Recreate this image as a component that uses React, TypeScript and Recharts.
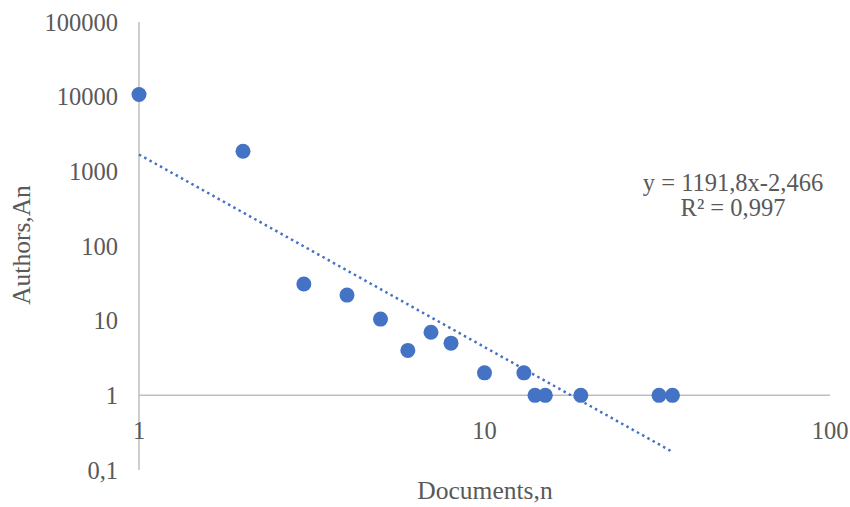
import { ReferenceLine, Scatter, ScatterChart, XAxis, YAxis } from "recharts";

const documents = [1, 2, 3, 4, 5, 6, 7, 8, 10, 13, 14, 15, 19, 32, 35];
const authors = [10700, 1860, 31, 22, 10.5, 4, 7, 5, 2, 2, 1, 1, 1, 1, 1];

// trendline end points
const trendX = [1, 35];
const trendY = [1680, 0.175];

const xTicks = [1, 10, 100];
const yTicks = [0.1, 1, 10, 100, 1000, 10000, 100000];

const points = documents.map((n, i) => ({ n, an: authors[i] }));
const trend = trendX.map((n, i) => ({ n, an: trendY[i] }));

const FONT = "'Liberation Serif', serif";
const GREY = "#595959";
const BLUE = "#4472C4";

const fmt = (v: number) => String(v).replace(".", ",");

function XTick({ x, y, payload }: any) {
  // labels sit just under the y = 1 crossing line
  return (
    <text
      x={x}
      y={y - 48}
      textAnchor="middle"
      dominantBaseline="central"
      fill={GREY}
      fontSize={24.5}
      fontFamily={FONT}
    >
      {payload.value}
    </text>
  );
}

export default function App() {
  return (
    <div style={{ position: "relative", width: 850, height: 507 }}>
      <style>{"body{margin:0}"}</style>
      <ScatterChart
        width={850}
        height={507}
        margin={{ top: 22, right: 20, bottom: 0, left: 0 }}
      >
        <XAxis
          type="number"
          dataKey="n"
          scale="log"
          domain={[1, 100]}
          ticks={xTicks}
          axisLine={false}
          tickLine={false}
          height={37}
          tick={<XTick />}
        />
        <YAxis
          type="number"
          dataKey="an"
          scale="log"
          domain={[0.1, 100000]}
          ticks={yTicks}
          width={139}
          tickFormatter={fmt}
          tickLine={false}
          tickSize={0}
          tickMargin={21}
          axisLine={{ stroke: "#BFBFBF", strokeWidth: 1.5 }}
          tick={{ fill: GREY, fontSize: 24.5, fontFamily: FONT }}
        />
        <ReferenceLine y={1} stroke="#BFBFBF" strokeWidth={1.5} />
        <Scatter
          data={trend}
          line={{
            stroke: BLUE,
            strokeWidth: 2.5,
            strokeDasharray: "2.5 3.5",
          }}
          shape={() => null}
          isAnimationActive={false}
        />
        <Scatter
          data={points}
          fill={BLUE}
          shape={(p: any) => <circle cx={p.cx} cy={p.cy} r={7.5} fill={BLUE} />}
          isAnimationActive={false}
        />
      </ScatterChart>
      <div
        style={{
          position: "absolute",
          left: 0,
          top: 0,
          width: 850,
          height: 507,
          pointerEvents: "none",
          fontFamily: FONT,
          color: GREY,
          fontSize: 25.5,
        }}
      >
        <div
          style={{
            position: "absolute",
            left: 485,
            top: 491,
            transform: "translate(-50%, -50%)",
            whiteSpace: "nowrap",
          }}
        >
          Documents,n
        </div>
        <div
          style={{
            position: "absolute",
            left: 22,
            top: 245,
            transform: "translate(-50%, -50%) rotate(-90deg)",
            whiteSpace: "nowrap",
          }}
        >
          Authors,An
        </div>
        <div
          style={{
            position: "absolute",
            left: 733,
            top: 195,
            transform: "translate(-50%, -50%)",
            textAlign: "center",
            lineHeight: "25px",
            whiteSpace: "nowrap",
            fontSize: 24.5,
          }}
        >
          <div>y = 1191,8x-2,466</div>
          <div>R² = 0,997</div>
        </div>
      </div>
    </div>
  );
}
